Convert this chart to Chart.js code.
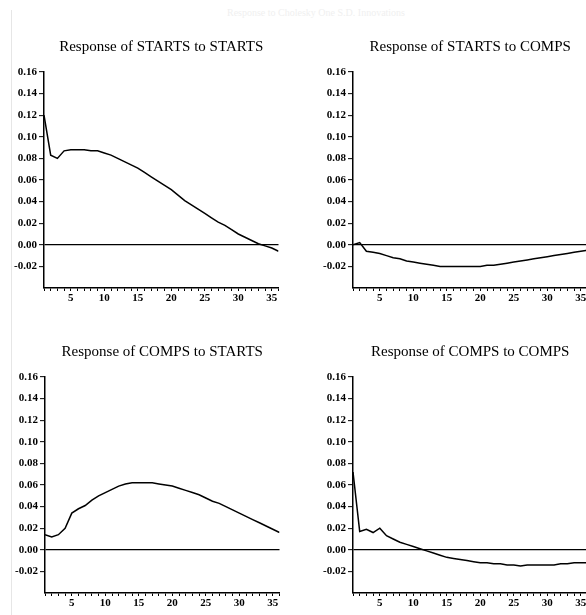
<!DOCTYPE html>
<html>
<head>
<meta charset="utf-8">
<script src="https://cdn.jsdelivr.net/npm/chart.js@4.4.0/dist/chart.umd.min.js"></script>
<style>
  html, body { margin: 0; padding: 0; background: #fff; overflow: hidden; }
  body { width: 586px; height: 615px; position: relative; }
  .edge { position: absolute; left: 11px; top: 10px; bottom: 0; border-left: 1px solid #e6e6e6; }
  .top-note { position: absolute; left: 203px; top: 7px; width: 226px; text-align: center;
    font: 10px "Liberation Serif", serif; color: #f0f0f0; white-space: nowrap; }
  .panel { position: absolute; width: 292px; height: 282px; }
  .panel canvas { display: block; }
</style>
</head>
<body>
<div class="edge"></div>
<div class="top-note">Response to Cholesky One S.D. Innovations</div>
<div class="panel" style="left:0px;top:30px"><canvas id="c1" width="292" height="282"></canvas></div>
<div class="panel" style="left:309px;top:30px"><canvas id="c2" width="292" height="282"></canvas></div>
<div class="panel" style="left:1px;top:335px"><canvas id="c3" width="292" height="282"></canvas></div>
<div class="panel" style="left:309px;top:335px"><canvas id="c4" width="292" height="282"></canvas></div>

<script>
// periods 1..36
const periods = [1,2,3,4,5,6,7,8,9,10,11,12,13,14,15,16,17,18,19,20,21,22,23,24,25,26,27,28,29,30,31,32,33,34,35,36];
const xTickLabels = [5, 10, 15, 20, 25, 30, 35];

// impulse responses
const startsToStarts = [0.120,0.083,0.080,0.087,0.088,0.088,0.088,0.087,0.087,0.085,0.083,0.080,0.077,0.074,0.071,0.067,0.063,0.059,0.055,0.051,0.046,0.041,0.037,0.033,0.029,0.025,0.021,0.018,0.014,0.010,0.007,0.004,0.001,-0.001,-0.003,-0.006];
const startsToComps = [0.000,0.002,-0.006,-0.007,-0.008,-0.010,-0.012,-0.013,-0.015,-0.016,-0.017,-0.018,-0.019,-0.020,-0.020,-0.020,-0.020,-0.020,-0.020,-0.020,-0.019,-0.019,-0.018,-0.017,-0.016,-0.015,-0.014,-0.013,-0.012,-0.011,-0.010,-0.009,-0.008,-0.007,-0.006,-0.005];
const compsToStarts = [0.014,0.012,0.014,0.020,0.034,0.038,0.041,0.046,0.050,0.053,0.056,0.059,0.061,0.062,0.062,0.062,0.062,0.061,0.060,0.059,0.057,0.055,0.053,0.051,0.048,0.045,0.043,0.040,0.037,0.034,0.031,0.028,0.025,0.022,0.019,0.016];
const compsToComps = [0.072,0.017,0.019,0.016,0.020,0.013,0.010,0.007,0.005,0.003,0.001,-0.001,-0.003,-0.005,-0.007,-0.008,-0.009,-0.010,-0.011,-0.012,-0.012,-0.013,-0.013,-0.014,-0.014,-0.015,-0.014,-0.014,-0.014,-0.014,-0.014,-0.013,-0.013,-0.012,-0.012,-0.012];

const yMin = -0.04, yMax = 0.16, yStep = 0.02;

const tickFont = { family: "'Liberation Serif', 'Times New Roman', serif", size: 11, weight: 'bold' };

function makePanel(id, title, values) {
  const ctx = document.getElementById(id).getContext("2d");
  return new Chart(ctx, {
    type: "line",
    data: {
      datasets: [{
        data: periods.map((p, i) => ({ x: p, y: values[i] })),
        borderColor: "#000",
        borderWidth: 1.5,
        pointRadius: 0,
        tension: 0,
        fill: false,
      }],
    },
    options: {
      responsive: false,
      animation: false,
      events: [],
      layout: { padding: { left: 0, right: 13.5, top: 8, bottom: 0 } },
      plugins: {
        legend: { display: false },
        tooltip: { enabled: false },
        title: {
          display: true,
          text: title,
          fullSize: false,
          color: "#000",
          font: { family: "'Liberation Serif', 'Times New Roman', serif", size: 15, weight: 'normal', lineHeight: 1.2 },
          padding: { top: 0, bottom: 16 },
        },
      },
      scales: {
        x: {
          type: "linear",
          min: 1,
          max: 36,
          offset: false,
          border: { display: true, color: "#000", width: 1.5 },
          grid: { display: true, drawOnChartArea: false, drawTicks: true, tickLength: 3, color: "#000", tickColor: "#000", tickWidth: 1 },
          ticks: {
            stepSize: 1,
            autoSkip: false,
            maxRotation: 0,
            padding: 1,
            color: "#000",
            font: tickFont,
            callback: (v) => (xTickLabels.includes(v) ? String(v) : ""),
          },
          afterFit: (s) => { s.height = 24; },
        },
        y: {
          min: yMin,
          max: yMax,
          border: { display: true, color: "#000", width: 1.5 },
          grid: {
            drawOnChartArea: true,
            drawTicks: true,
            tickLength: 5,
            lineWidth: 1.3,
            color: (c) => (c.tick && Math.abs(c.tick.value) < 1e-9 ? "#000" : "rgba(0,0,0,0)"),
            tickColor: (c) => (c.tick && c.tick.value < yMin + 1e-9 ? "rgba(0,0,0,0)" : "#000"),
            tickWidth: 1,
          },
          ticks: {
            stepSize: yStep,
            padding: 2,
            color: "#000",
            font: tickFont,
            callback: (v) => (v < yMin + 1e-9 ? "" : Number(v).toFixed(2)),
          },
          afterFit: (s) => { s.width = 44; },
        },
      },
    },
  });
}

makePanel("c1", "Response of STARTS to STARTS", startsToStarts);
makePanel("c2", "Response of STARTS to COMPS", startsToComps);
makePanel("c3", "Response of COMPS to STARTS", compsToStarts);
makePanel("c4", "Response of COMPS to COMPS", compsToComps);
</script>
</body>
</html>
